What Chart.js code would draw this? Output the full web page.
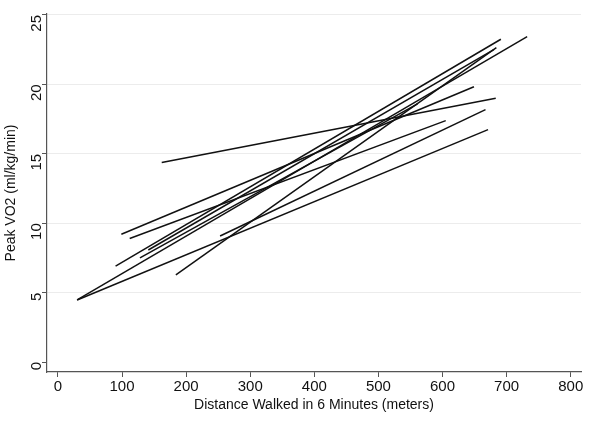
<!DOCTYPE html>
<html>
<head>
<meta charset="utf-8">
<script src="https://cdn.jsdelivr.net/npm/chart.js@4.4.1/dist/chart.umd.min.js"></script>
<style>
  html, body { margin: 0; padding: 0; background: #fff; }
  #wrap { width: 600px; height: 428px; }
</style>
</head>
<body>
<div id="wrap"><canvas id="vo2-chart"></canvas></div>
<script>
  // one straight line per subject: start and end of each fitted segment
  const walkStart = [30, 30, 184, 253, 162, 99, 112, 90, 128, 141];
  const vo2Start = [4.47, 4.47, 6.27, 9.08, 14.38, 9.2, 8.9, 6.9, 7.5, 8.07];
  const walkEnd = [732, 671, 684, 667, 683, 649, 605, 691, 561, 680];
  const vo2End = [23.44, 16.74, 22.64, 18.18, 19.0, 19.83, 17.39, 23.25, 18.6, 22.5];

  const xTicks = [0, 100, 200, 300, 400, 500, 600, 700, 800];
  const yTicks = [0, 5, 10, 15, 20, 25];

  const datasets = walkStart.map(function (x0, i) {
    return {
      data: [{ x: x0, y: vo2Start[i] }, { x: walkEnd[i], y: vo2End[i] }],
      borderColor: '#111',
      borderWidth: 1.5,
      pointRadius: 0,
      showLine: true,
      fill: false
    };
  });

  const font = { family: "'Liberation Sans', Arial, sans-serif", size: 15 };

  new Chart(document.getElementById('vo2-chart'), {
    type: 'scatter',
    data: { datasets: datasets },
    options: {
      responsive: true,
      maintainAspectRatio: false,
      animation: false,
      layout: { padding: { left: 0, right: 19, top: 0, bottom: 0 } },
      plugins: { legend: { display: false }, tooltip: { enabled: false } },
      scales: {
        x: {
          type: 'linear',
          min: -17,
          max: 816,
          afterBuildTicks: function (scale) {
            scale.ticks = xTicks.map(function (v) { return { value: v }; });
          },
          afterFit: function (scale) { scale.height = 56; },
          border: { display: true, color: '#555', width: 1.2 },
          grid: { drawOnChartArea: false, drawTicks: true, tickLength: 5, tickColor: '#555' },
          ticks: { color: '#111', font: font, padding: 1, maxRotation: 0 },
          title: {
            display: true,
            text: 'Distance Walked in 6 Minutes (meters)',
            color: '#111',
            font: { family: font.family, size: 14 },
            padding: { top: 0, bottom: 14 }
          }
        },
        y: {
          type: 'linear',
          min: -0.72,
          max: 25.07,
          afterBuildTicks: function (scale) {
            scale.ticks = yTicks.map(function (v) { return { value: v }; });
          },
          afterFit: function (scale) { scale.width = 47; },
          border: { display: true, color: '#555', width: 1.2 },
          grid: {
            drawOnChartArea: true,
            drawTicks: true,
            tickLength: 5,
            tickColor: '#555',
            color: function (ctx) { return ctx.tick && ctx.tick.value === 0 ? 'rgba(0,0,0,0)' : '#ececec'; }
          },
          ticks: { color: '#111', font: font, padding: 5, minRotation: 90, maxRotation: 90 },
          title: {
            display: true,
            text: 'Peak VO2 (ml/kg/min)',
            color: '#111',
            font: { family: font.family, size: 14 },
            padding: { top: 3, bottom: 0 }
          }
        }
      }
    }
  });
</script>
</body>
</html>
